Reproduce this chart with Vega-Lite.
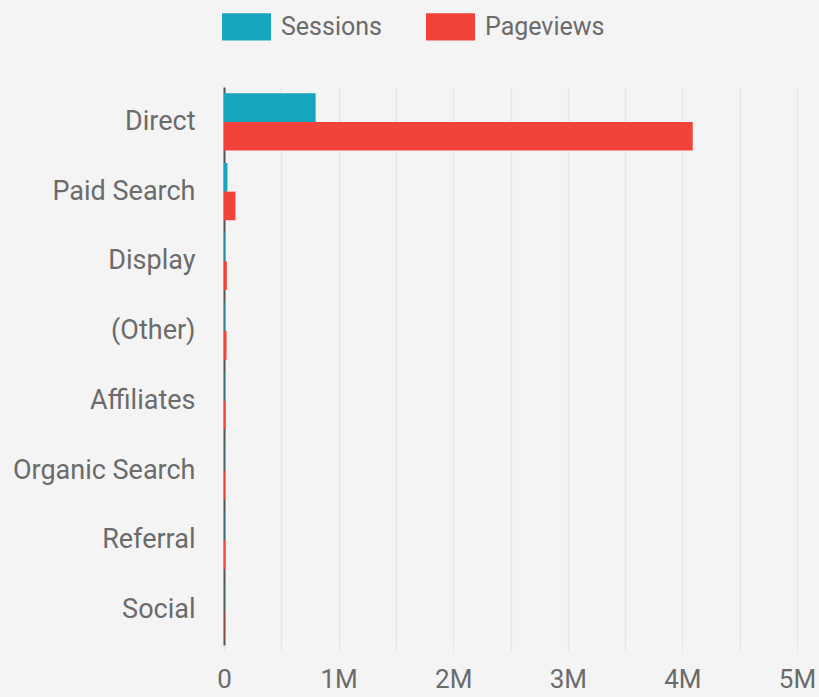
{
  "$schema": "https://vega.github.io/schema/vega-lite/v6.json",
  "width": 573,
  "height": 558,
  "autosize": "none",
  "padding": {"left": 224, "top": 87, "right": 22, "bottom": 52},
  "background": "#f4f4f4",
  "data": {
    "values": [
      {"channel": "Direct", "metric": "Sessions", "value": 800000},
      {"channel": "Direct", "metric": "Pageviews", "value": 4090000},
      {"channel": "Paid Search", "metric": "Sessions", "value": 30000},
      {"channel": "Paid Search", "metric": "Pageviews", "value": 100000},
      {"channel": "Display", "metric": "Sessions", "value": 6000},
      {"channel": "Display", "metric": "Pageviews", "value": 25000},
      {"channel": "(Other)", "metric": "Sessions", "value": 5000},
      {"channel": "(Other)", "metric": "Pageviews", "value": 22000},
      {"channel": "Affiliates", "metric": "Sessions", "value": 3000},
      {"channel": "Affiliates", "metric": "Pageviews", "value": 12000},
      {"channel": "Organic Search", "metric": "Sessions", "value": 2000},
      {"channel": "Organic Search", "metric": "Pageviews", "value": 8000},
      {"channel": "Referral", "metric": "Sessions", "value": 2500},
      {"channel": "Referral", "metric": "Pageviews", "value": 10000},
      {"channel": "Social", "metric": "Sessions", "value": 1000},
      {"channel": "Social", "metric": "Pageviews", "value": 3000}
    ]
  },
  "config": {
    "view": {"stroke": null},
    "font": "Roboto",
    "axis": {"labelFont": "Roboto", "labelColor": "#6b6b6b"},
    "legend": {"labelFont": "Roboto", "labelColor": "#6b6b6b"}
  },
  "mark": {"type": "bar"},
  "encoding": {
    "y": {
      "field": "channel",
      "type": "nominal",
      "sort": ["Direct", "Paid Search", "Display", "(Other)", "Affiliates", "Organic Search", "Referral", "Social"],
      "scale": {"paddingInner": 0.18, "paddingOuter": 0.09},
      "axis": {
        "title": null,
        "ticks": false,
        "domain": true,
        "domainColor": "#555555",
        "domainWidth": 2,
        "labelFontSize": 27,
        "labelLimit": 400,
        "labelPadding": 29,
        "grid": false
      }
    },
    "yOffset": {
      "field": "metric",
      "type": "nominal",
      "sort": ["Sessions", "Pageviews"]
    },
    "x": {
      "field": "value",
      "type": "quantitative",
      "scale": {"domain": [0, 5000000], "nice": false},
      "axis": {
        "title": null,
        "values": [0, 500000, 1000000, 1500000, 2000000, 2500000, 3000000, 3500000, 4000000, 4500000, 5000000],
        "labelExpr": "datum.value == 0 ? '0' : (datum.value % 1000000 == 0 ? (datum.value / 1000000) + 'M' : '')",
        "domain": false,
        "grid": true,
        "gridColor": "#e6e6e6",
        "gridWidth": 1.5,
        "ticks": true,
        "tickColor": "#e6e6e6",
        "tickSize": 6,
        "labelFontSize": 26,
        "labelPadding": 15,
        "labelFlush": false
      }
    },
    "color": {
      "field": "metric",
      "type": "nominal",
      "sort": ["Sessions", "Pageviews"],
      "scale": {"domain": ["Sessions", "Pageviews"], "range": ["#16a7bf", "#f2433a"]},
      "legend": {
        "title": null,
        "orient": "none",
        "direction": "horizontal",
        "legendX": -2,
        "legendY": -85,
        "symbolType": "M-1,-0.56H1V0.56H-1Z",
        "symbolSize": 2400,
        "symbolStrokeWidth": 0,
        "labelFontSize": 25,
        "labelOffset": 10,
        "columnPadding": 44
      }
    }
  }
}
